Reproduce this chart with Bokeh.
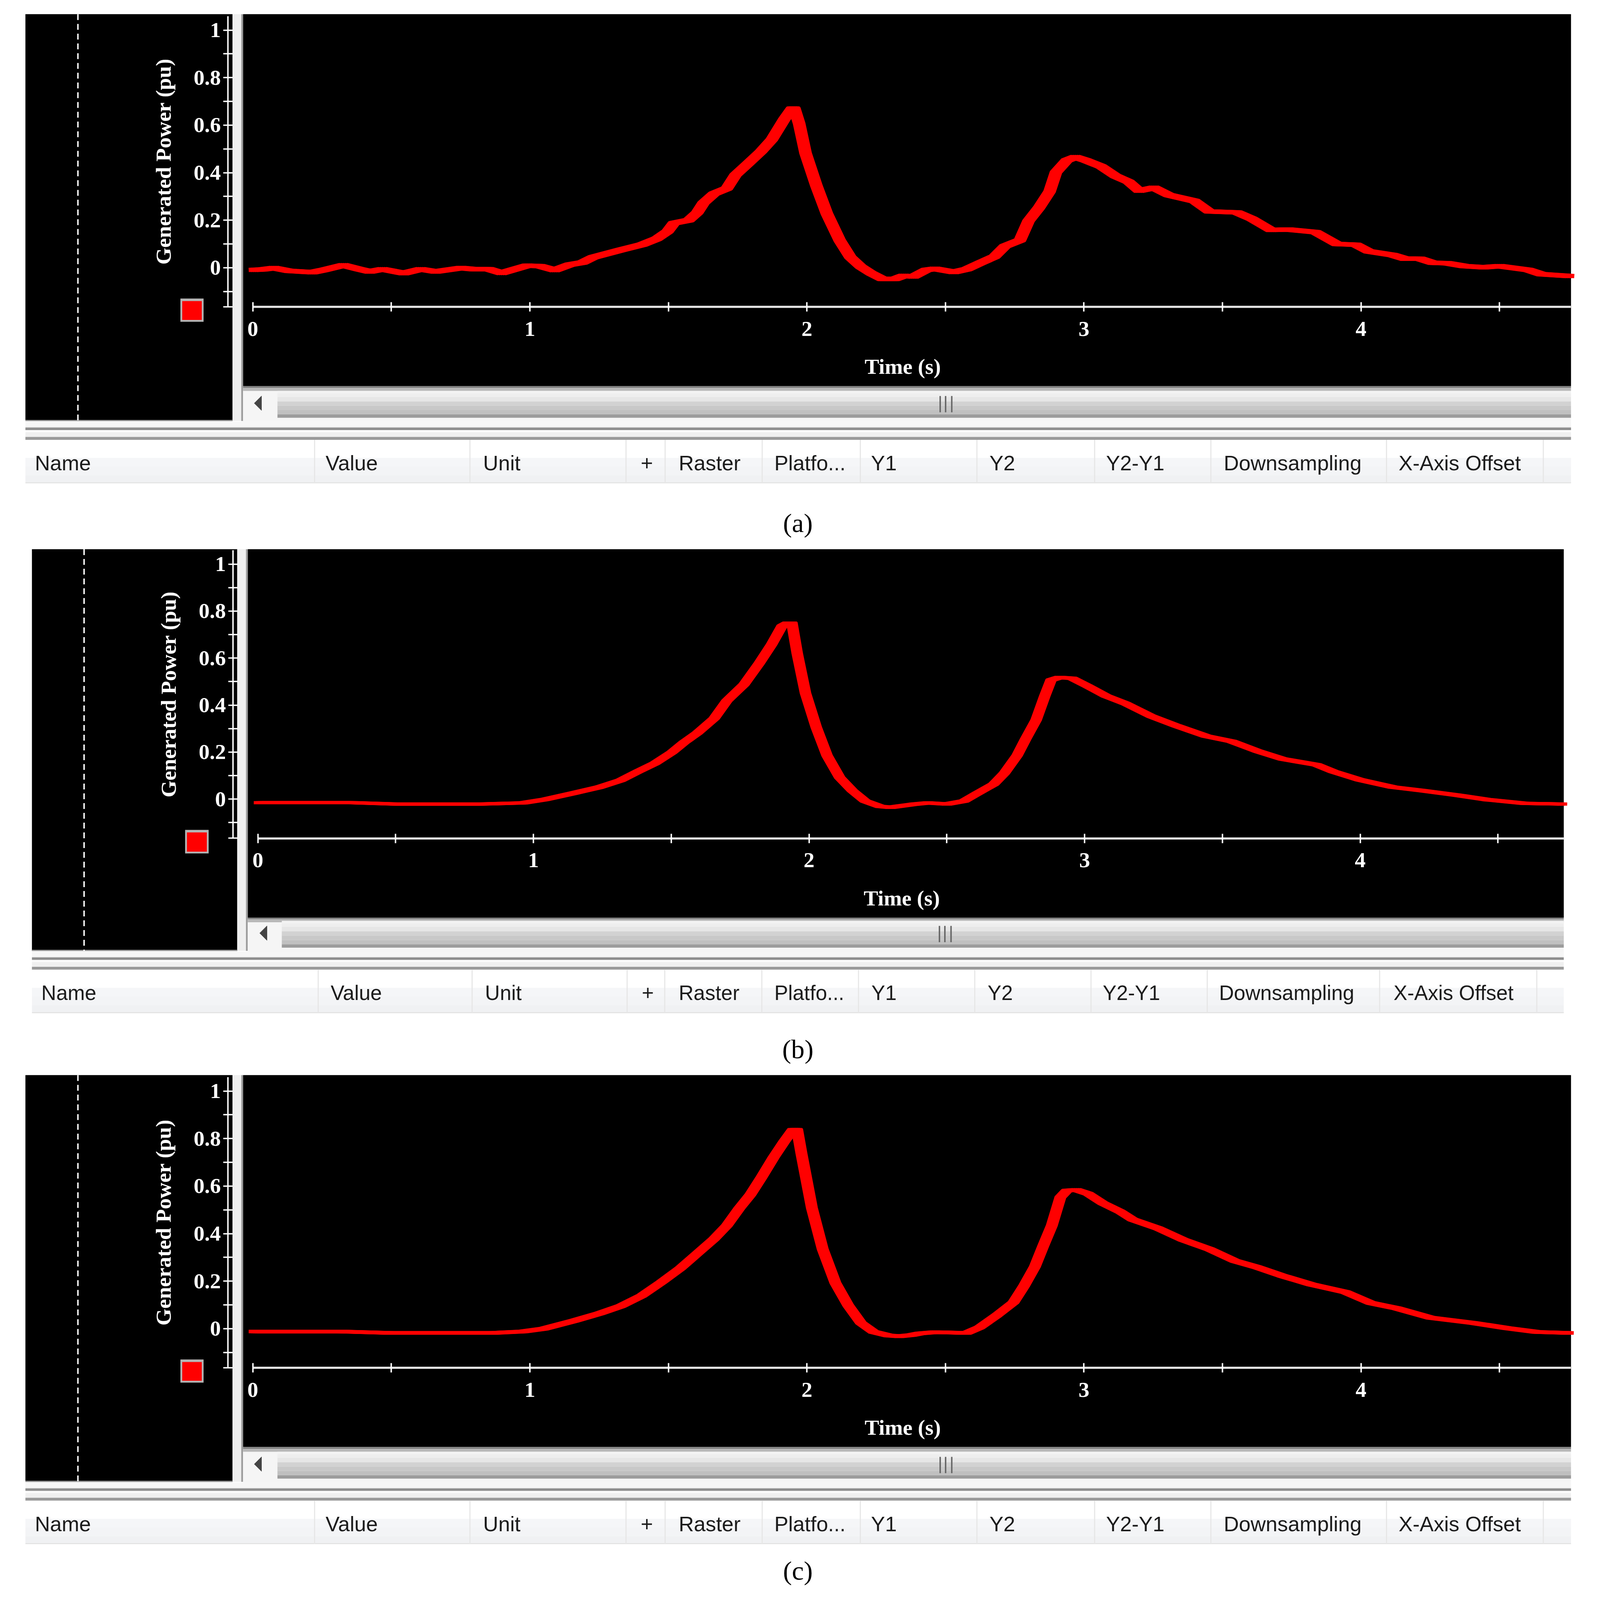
from bokeh.core.properties import value
from bokeh.embed import file_html
from bokeh.layouts import column
from bokeh.models import FixedTicker, LinearAxis, Range1d
from bokeh.plotting import figure
from bokeh.resources import INLINE
from bokeh.transform import dodge

# time (s) and generated power (pu)
time_a = [0.0, 0.035, 0.077, 0.130, 0.215, 0.253, 0.327, 0.384, 0.422, 0.468, 0.545, 0.606, 0.660, 0.752, 0.798,
          0.852, 0.898, 0.990, 1.036, 1.090, 1.144, 1.190, 1.228, 1.328, 1.404, 1.458, 1.497, 1.520, 1.573, 1.604,
          1.627, 1.665, 1.711, 1.742, 1.788, 1.834, 1.873, 1.919, 1.946, 1.955, 1.972, 1.995, 2.034, 2.072, 2.118,
          2.157, 2.195, 2.233, 2.272, 2.318, 2.348, 2.385, 2.431, 2.462, 2.531, 2.577, 2.623, 2.677, 2.715, 2.769,
          2.800, 2.838, 2.876, 2.899, 2.938, 2.969, 3.007, 3.061, 3.114, 3.161, 3.199, 3.253, 3.306, 3.399, 3.452,
          3.552, 3.606, 3.675, 3.737, 3.836, 3.913, 3.982, 4.028, 4.113, 4.159, 4.213, 4.259, 4.313, 4.374, 4.443,
          4.500, 4.604, 4.651, 4.755]
power_a = [-0.009, -0.007, -0.001, -0.013, -0.019, -0.010, 0.011, -0.006, -0.016, -0.006, -0.023, -0.006, -0.016,
           -0.001, -0.006, -0.006, -0.022, 0.009, 0.007, -0.010, 0.013, 0.022, 0.044, 0.075, 0.097, 0.122, 0.153,
           0.188, 0.200, 0.232, 0.273, 0.312, 0.334, 0.390, 0.439, 0.489, 0.539, 0.626, 0.670, 0.670, 0.607, 0.483,
           0.346, 0.228, 0.116, 0.044, 0.004, -0.024, -0.047, -0.047, -0.034, -0.037, -0.009, -0.004, -0.018,
           -0.006, 0.019, 0.047, 0.091, 0.116, 0.197, 0.253, 0.321, 0.402, 0.452, 0.466, 0.452, 0.427, 0.386, 0.362,
           0.324, 0.337, 0.306, 0.281, 0.237, 0.233, 0.206, 0.159, 0.161, 0.150, 0.100, 0.097, 0.069, 0.054, 0.038,
           0.038, 0.021, 0.019, 0.007, 0.002, 0.007, -0.009, -0.027, -0.035]

time_b = [0.0, 0.345, 0.499, 0.808, 0.962, 1.039, 1.147, 1.239, 1.316, 1.378, 1.440, 1.502, 1.548, 1.594, 1.656,
          1.702, 1.764, 1.818, 1.864, 1.902, 1.921, 1.938, 1.957, 1.987, 2.026, 2.065, 2.111, 2.157, 2.203, 2.257,
          2.296, 2.377, 2.431, 2.500, 2.562, 2.608, 2.670, 2.709, 2.755, 2.786, 2.824, 2.855, 2.878, 2.909, 2.955,
          3.009, 3.079, 3.148, 3.241, 3.333, 3.441, 3.533, 3.626, 3.718, 3.842, 3.903, 3.996, 4.119, 4.227, 4.351,
          4.459, 4.597, 4.736]
power_b = [-0.015, -0.015, -0.021, -0.021, -0.016, -0.002, 0.026, 0.051, 0.080, 0.117, 0.152, 0.199, 0.243, 0.281,
           0.344, 0.419, 0.488, 0.576, 0.658, 0.737, 0.749, 0.749, 0.620, 0.451, 0.306, 0.186, 0.092, 0.036, -0.008,
           -0.031, -0.035, -0.022, -0.016, -0.021, -0.008, 0.023, 0.064, 0.111, 0.186, 0.256, 0.337, 0.438, 0.507,
           0.518, 0.514, 0.482, 0.438, 0.407, 0.353, 0.312, 0.268, 0.246, 0.205, 0.171, 0.146, 0.117, 0.083, 0.051,
           0.036, 0.017, -0.002, -0.018, -0.021]

time_c = [0.0, 0.315, 0.499, 0.867, 0.975, 1.051, 1.159, 1.251, 1.328, 1.404, 1.474, 1.543, 1.604, 1.665, 1.711,
          1.757, 1.796, 1.834, 1.880, 1.919, 1.949, 1.965, 1.980, 2.018, 2.057, 2.103, 2.149, 2.195, 2.241, 2.295,
          2.333, 2.377, 2.408, 2.462, 2.577, 2.623, 2.684, 2.746, 2.784, 2.823, 2.853, 2.884, 2.915, 2.938, 2.973,
          3.015, 3.068, 3.130, 3.176, 3.268, 3.360, 3.452, 3.545, 3.621, 3.714, 3.821, 3.944, 4.036, 4.128, 4.251,
          4.405, 4.528, 4.635, 4.753]
power_c = [-0.012, -0.012, -0.018, -0.018, -0.012, 0.0, 0.033, 0.064, 0.095, 0.139, 0.195, 0.254, 0.316, 0.378,
           0.434, 0.508, 0.564, 0.633, 0.721, 0.789, 0.837, 0.837, 0.739, 0.508, 0.335, 0.192, 0.098, 0.024, -0.014,
           -0.029, -0.032, -0.027, -0.020, -0.015, -0.018, 0.005, 0.055, 0.111, 0.180, 0.261, 0.348, 0.434, 0.553,
           0.581, 0.584, 0.568, 0.528, 0.493, 0.459, 0.422, 0.373, 0.335, 0.285, 0.260, 0.223, 0.186, 0.154, 0.108,
           0.086, 0.046, 0.024, 0.002, -0.014, -0.018]

x_ticks = [0, 1, 2, 3, 4]
x_minor = [0.5, 1.5, 2.5, 3.5, 4.5]
y_ticks = [0, 0.2, 0.4, 0.6, 0.8, 1]
y_tick_labels = ["0", "0.2", "0.4", "0.6", "0.8", "1"]
y_minor = [-0.165, -0.1, 0.1, 0.3, 0.5, 0.7, 0.9]
columns = ["Name", "Value", "Unit", "+", "Raster", "Platfo...", "Y1", "Y2", "Y2-Y1", "Downsampling", "X-Axis Offset"]

SERIF = "Liberation Serif"
SANS = "Liberation Sans"
PAGE_L, PAGE_R = 8, 4396
# the photographed page comes out a bit larger than the reference, so everything is drawn at this scale
S = 0.9271

# strips under the black area, offsets from its bottom edge
STRIPS = [(2, 16, "#f6f6f6"), (16, 18, "#e6e6e6"), (18, 25, "#8e8e8e"), (25, 31, "#fbfbfb"), (31, 44, "#f0f0f0"),
          (44, 52, "#9a9a9a")]
THUMB = [(-83, -76, "#f3f3f3"), (-76, -66, "#eeeeee"), (-66, -54, "#e6e6e6"), (-54, -42, "#d2d2d2"),
         (-42, -30, "#c8c8c8"), (-30, -18, "#c0c0c0"), (-18, -9, "#9c9c9c")]
HEADER = [(52, 102, "#ffffff"), (102, 125, "#f5f6f8"), (125, 150, "#f3f4f6"), (150, 169, "#f0f1f3"),
          (169, 172, "#e2e2e2")]


def fpx(n):
    return f"{n * S:.1f}px"


def panel(top, bottom, g, time, power, lw, caption, cap_y):
    # frame fills the whole figure, ranges worked out from where ticks sit on the page
    tlo = (PAGE_L - g["x0"]) / g["sx"]
    thi = (PAGE_R - g["x0"]) / g["sx"]
    vlo = (g["y0"] - bottom) / g["sy"]
    vhi = (g["y0"] - top) / g["sy"]
    tend = (g["right"] - g["x0"]) / g["sx"]
    p = figure(width=round((PAGE_R - PAGE_L) * S), height=round((bottom - top) * S),
               x_range=Range1d(tlo, thi), y_range=Range1d(vlo, vhi),
               x_axis_type=None, y_axis_type=None, toolbar_location=None, output_backend="svg",
               min_border=0, outline_line_color=None, background_fill_color="white", border_fill_color="white")
    p.grid.visible = False
    p.extra_x_ranges["px"] = Range1d(PAGE_L, PAGE_R)
    p.extra_y_ranges["px"] = Range1d(bottom, top)

    def box(x0, x1, y0, y1, color):
        p.quad(left=x0, right=x1, top=y0, bottom=y1, color=color, line_color=None,
               x_range_name="px", y_range_name="px")

    L, R, T, B = g["left"], g["right"], g["top"], g["black"]
    # black areas, splitter
    box(L, g["split"], T, B, "black")
    box(g["split"] + 29, R, T, g["scroll"], "black")
    box(g["split"], g["split"] + 24, T, B, "#efefef")
    box(g["split"] + 24, g["split"] + 29, T, B, "#9c9c9c")
    box(L, g["split"], B - 3, B, "#9a9a9a")
    p.line([g["dash"], g["dash"]], [T, B], color="white", line_width=4 * S, line_dash=[15, 10],
           x_range_name="px", y_range_name="px")

    # scroll bar
    box(g["split"] + 29, R, g["scroll"], B + 2, "#f5f5f5")
    box(g["split"] + 29, R, g["scroll"], g["scroll"] + 5, "#808080")
    box(g["split"] + 29, R, g["scroll"] + 5, g["scroll"] + 13, "#b8b8b8")
    for y0, y1, c in THUMB:
        box(g["thumb"], R, B + y0, B + y1, c)
    p.patch([g["arrow"], g["arrow"] + 20, g["arrow"] + 20], [B - 49, B - 69, B - 29], color="#444444",
            x_range_name="px", y_range_name="px")
    for dx in (-15, 0, 17):
        p.line([g["grip"] + dx, g["grip"] + dx], [B - 69, B - 24], color="#666666", line_width=4 * S,
               x_range_name="px", y_range_name="px")

    # splitter strips and table header
    for y0, y1, c in STRIPS + HEADER:
        box(L, R, B + y0, B + y1, c)
    for sx_ in g["seps"]:
        box(sx_, sx_ + 3, B + 52, B + 172, "#e6e6e6")
    p.text(x=g["cols"], y=[B + 116] * len(columns), text=columns, text_font=value(SANS),
           text_font_size=fpx(g["fs"]), text_color="#1c1c1c", text_baseline="middle",
           x_range_name="px", y_range_name="px")

    # legend swatch
    sw = g["swatch"]
    box(sw[0], sw[1], sw[2], sw[3], "#b4b4b4")
    box(sw[0] + 5, sw[1] - 5, sw[2] + 7, sw[3] - 5, "#ff0000")

    # trace, pen looks wider sideways on the steep parts
    src = dict(t=time, v=power)
    for off in (-0.015, -0.0075, 0, 0.0075, 0.015):
        p.line(x=dodge("t", off), y="v", source=src, color="#ff0000", line_width=lw * S, line_join="round")

    xax = LinearAxis(fixed_location=g["xloc"], bounds=(0, tend), ticker=FixedTicker(ticks=x_ticks, minor_ticks=x_minor))
    xax.axis_line_color = "#e4e4e4"
    xax.axis_line_width = 6 * S
    xax.major_tick_in = xax.major_tick_out = xax.minor_tick_in = xax.minor_tick_out = round(13 * S)
    xax.major_tick_line_color = xax.minor_tick_line_color = "white"
    xax.major_tick_line_width = xax.minor_tick_line_width = 4 * S
    xax.major_label_text_font = SERIF
    xax.major_label_text_font_style = "bold"
    xax.major_label_text_font_size = fpx(60)
    xax.major_label_text_color = "white"
    xax.major_label_standoff = round(28 * S)
    p.add_layout(xax, "below")

    # title sits off the middle of the time axis, so it gets an axis of its own
    tax = LinearAxis(fixed_location=g["xloc"], bounds=(0, 2 * g["tmid"]), ticker=FixedTicker(ticks=[]),
                     axis_label="Time (s)")
    tax.axis_line_color = None
    tax.major_tick_line_color = None
    tax.minor_tick_line_color = None
    tax.axis_label_text_font = SERIF
    tax.axis_label_text_font_style = "bold"
    tax.axis_label_text_font_size = fpx(60)
    tax.axis_label_text_color = "white"
    tax.axis_label_standoff = round(130 * S)
    p.add_layout(tax, "below")

    yax = LinearAxis(fixed_location=g["yloc"], bounds=(g["xloc"], 1.059),
                     ticker=FixedTicker(ticks=y_ticks, minor_ticks=y_minor), axis_label="Generated Power (pu)")
    yax.major_label_overrides = dict(zip(y_ticks, y_tick_labels))
    yax.axis_line_color = "white"
    yax.axis_line_width = 4 * S
    yax.major_tick_in = yax.major_tick_out = yax.minor_tick_in = yax.minor_tick_out = round(13 * S)
    yax.major_tick_line_color = yax.minor_tick_line_color = "white"
    yax.major_tick_line_width = yax.minor_tick_line_width = 4 * S
    yax.major_label_text_font = SERIF
    yax.major_label_text_font_style = "bold"
    yax.major_label_text_font_size = fpx(60)
    yax.major_label_text_color = "white"
    yax.major_label_standoff = round(6 * S)
    yax.axis_label_text_font = SERIF
    yax.axis_label_text_font_style = "bold"
    yax.axis_label_text_font_size = fpx(60)
    yax.axis_label_text_color = "white"
    yax.axis_label_standoff = round(47 * S)
    p.add_layout(yax, "left")

    p.text(x=[2202], y=[cap_y], text=[caption], text_font=value(SERIF), text_font_size=fpx(74), text_color="black",
           text_align="center", text_baseline="middle", x_range_name="px", y_range_name="px")
    return p


def geom_ac(dy):
    return dict(x0=697, sx=765, y0=738 + dy, sy=656, left=69, right=4337, top=38 + dy, black=1161 + dy,
                split=641, scroll=1065 + dy, dash=214, thumb=765, arrow=701, grip=2610, tmid=2.346,
                seps=[866, 1295, 1726, 1834, 2102, 2373, 2695, 3020, 3341, 3826, 4259],
                cols=[95, 898, 1333, 1768, 1873, 2137, 2404, 2731, 3053, 3378, 3861], fs=58,
                swatch=(497, 561, 823 + dy, 887 + dy), xloc=-0.165, yloc=(628 - 697) / 765)


geom_b = dict(x0=711, sx=761, y0=2205, sy=649, left=87, right=4317, top=1515, black=2624,
              split=654, scroll=2532, dash=231, thumb=777, arrow=716, grip=2608, tmid=2.336,
              seps=[876, 1301, 1729, 1833, 2101, 2368, 2689, 3010, 3331, 3807, 4241],
              cols=[113, 912, 1338, 1771, 1873, 2137, 2405, 2726, 3044, 3365, 3847], fs=57,
              swatch=(510, 575, 2290, 2355), xloc=-0.167, yloc=(642 - 711) / 761)

pa = panel(8, 1495, geom_ac(0), time_a, power_a, 12, "(a)", 1443)
pb = panel(1495, 2950, geom_b, time_b, power_b, 9, "(b)", 2895)
pc = panel(2950, 4407, geom_ac(2929), time_c, power_c, 10, "(c)", 4335)

layout = column(pa, pb, pc, spacing=0, margin=(8, 0, 0, 8))
open("out.html", "w").write(file_html(layout, INLINE))
